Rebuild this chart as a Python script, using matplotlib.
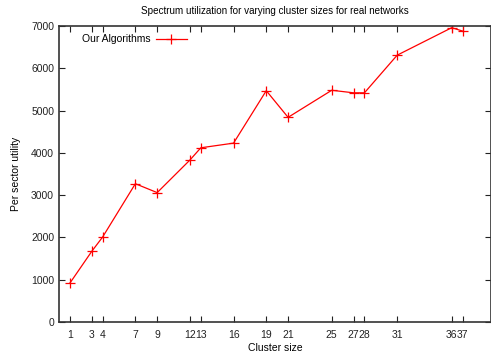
import matplotlib
matplotlib.use("Agg")
import matplotlib.pyplot as plt

plt.rcParams['font.family'] = ['Liberation Sans', 'DejaVu Sans']

# cluster sizes and per-sector utility
cluster_sizes = [1, 3, 4, 7, 9, 12, 13, 16, 19, 21, 25, 27, 28, 31, 36, 37]
utility = [920, 1670, 2010, 3270, 3060, 3830, 4120, 4230, 5470, 4840,
           5480, 5420, 5420, 6310, 6960, 6880]
y_ticks = [0, 1000, 2000, 3000, 4000, 5000, 6000, 7000]

fig = plt.figure(figsize=(4.91, 3.54), dpi=100)
ax = fig.add_axes([59 / 491, 32 / 354, 432 / 491, 296 / 354])

ax.plot(cluster_sizes, utility, color='red', lw=0.9, marker='+',
        markersize=7.5, markeredgewidth=0.9, label='Our Algorithms')

ax.set_xlim(0, 39.6)
ax.set_ylim(0, 7000)
ax.set_xticks(cluster_sizes)
ax.set_xticklabels([str(c) for c in cluster_sizes])
ax.set_yticks(y_ticks)
ax.tick_params(direction='in', length=4, width=0.8, labelsize=7.5,
               top=True, right=True, colors='#222222')
ax.tick_params(axis='x', pad=6)
for s in ax.spines.values():
    s.set_linewidth(1.2)
    s.set_color('#333333')

ax.set_title('Spectrum utilization for varying cluster sizes for real networks',
             fontsize=7.1, pad=9)
ax.set_xlabel('Cluster size', fontsize=7.5, labelpad=2)
ax.set_ylabel('Per sector utility', fontsize=7.5, labelpad=7)

leg = ax.legend(loc='upper left', frameon=False, fontsize=7.5,
                markerfirst=False, handlelength=3.0, handletextpad=0.5,
                borderaxespad=0.4, bbox_to_anchor=(0.034, 1.0))

fig.savefig('out.png', dpi=100)
